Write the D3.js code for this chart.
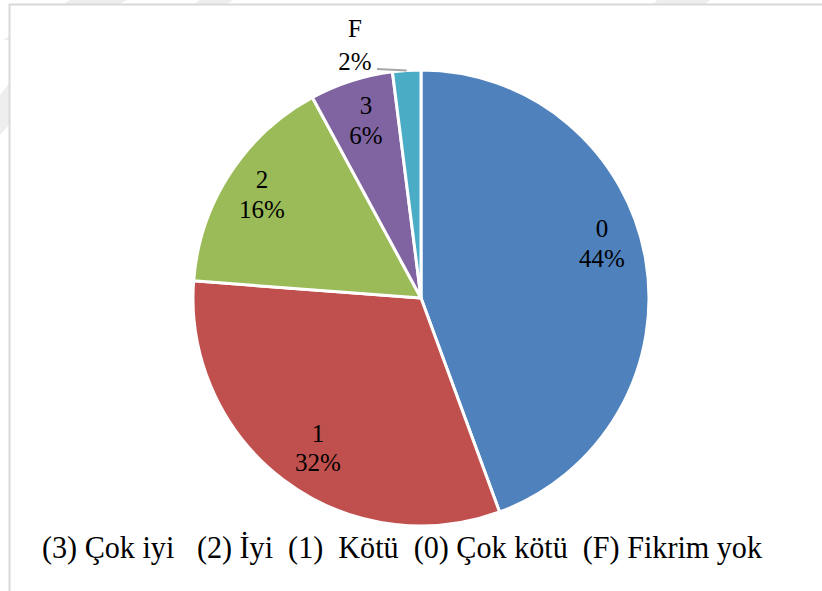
<!DOCTYPE html>
<html>
<head>
<meta charset="utf-8">
<script src="https://cdn.jsdelivr.net/npm/d3@7"></script>
<style>
  html, body { margin: 0; padding: 0; background: #fff; }
  svg { display: block; }
</style>
</head>
<body>
<svg id="chart" width="822" height="591"></svg>
<script>
// ---- data ----
const categories = ["0", "1", "2", "3", "F"];
const values = [44.4, 31.8, 15.9, 5.9, 2.0];
const colors = ["#4F81BD", "#C0504D", "#9BBB59", "#8064A2", "#4BACC6"];
const legendText = "(3) Çok iyi   (2) İyi  (1)  Kötü  (0) Çok kötü  (F) Fikrim yok";

const FONT = "Liberation Serif";
const svg = d3.select("#chart");
const W = 822, H = 591;

// faint watermark outside the chart area
const wm = svg.append("g").attr("fill", "#eeeeee");
[[70, 0, 127, 0, 60, 40, 3, 40], [200, 0, 233, 0, 190, 30, 160, 30], [657, 0, 710, 0, 690, 20, 640, 20]]
  .forEach(p => wm.append("polygon").attr("points", `${p[0]},${p[1]} ${p[2]},${p[3]} ${p[4]},${p[5]} ${p[6]},${p[7]}`));
wm.append("polygon").attr("points", "0,135 0,95 40,45 40,90");

// chart area
svg.append("rect")
  .attr("x", 9.5).attr("y", 4.5)
  .attr("width", W + 20).attr("height", H + 20)
  .attr("fill", "#fff")
  .attr("stroke", "#d9d9d9").attr("stroke-width", 2);

const cx = 421, cy = 298, R = 228;
const data = categories.map((c, i) => ({ cat: c, value: values[i], color: colors[i] }));
const total = d3.sum(values);

const pie = d3.pie().sort(null).value(d => d.value).startAngle(0).endAngle(2 * Math.PI);
const arc = d3.arc().innerRadius(0).outerRadius(R);
const arcs = pie(data);

const g = svg.append("g").attr("transform", `translate(${cx},${cy})`);
g.selectAll("path").data(arcs).join("path")
  .attr("d", arc)
  .attr("fill", d => d.data.color)
  .attr("stroke", "#fff")
  .attr("stroke-width", 3)
  .attr("stroke-linejoin", "round");

// label placement (absolute positions of label baselines)
const labelPos = {
  "0": [602, 237],
  "1": [318, 442],
  "2": [262, 188],
  "3": [366, 114],
  "F": [355, 37]
};
const lineGap = { "0": 30, "1": 29, "2": 30, "3": 30, "F": 33 };

const labels = svg.append("g")
  .style("font-family", FONT)
  .style("font-size", "25px")
  .attr("fill", "#000")
  .attr("text-anchor", "middle");

arcs.forEach(a => {
  const c = a.data.cat;
  const [x, y] = labelPos[c];
  const pct = Math.round(a.data.value / total * 100) + "%";
  const t = labels.append("text").attr("x", x).attr("y", y);
  t.append("tspan").attr("x", x).attr("y", y).text(c);
  t.append("tspan").attr("x", x).attr("y", y + lineGap[c]).text(pct);
});

// leader line for F
const fArc = arcs[4];
const mid = (fArc.startAngle + fArc.endAngle) / 2;
const ox = cx + Math.sin(mid) * (R - 1), oy = cy - Math.cos(mid) * (R - 1);
svg.append("line")
  .attr("x1", 377).attr("y1", 69)
  .attr("x2", ox).attr("y2", oy - 1)
  .attr("stroke", "#a6a6a6").attr("stroke-width", 2);

// legend
svg.append("text")
  .attr("x", 42).attr("y", 558)
  .style("font-family", FONT)
  .style("font-size", "31px")
  .attr("fill", "#000")
  .style("white-space", "pre")
  .attr("textLength", 720)
  .attr("lengthAdjust", "spacingAndGlyphs")
  .text(legendText);
</script>
</body>
</html>
